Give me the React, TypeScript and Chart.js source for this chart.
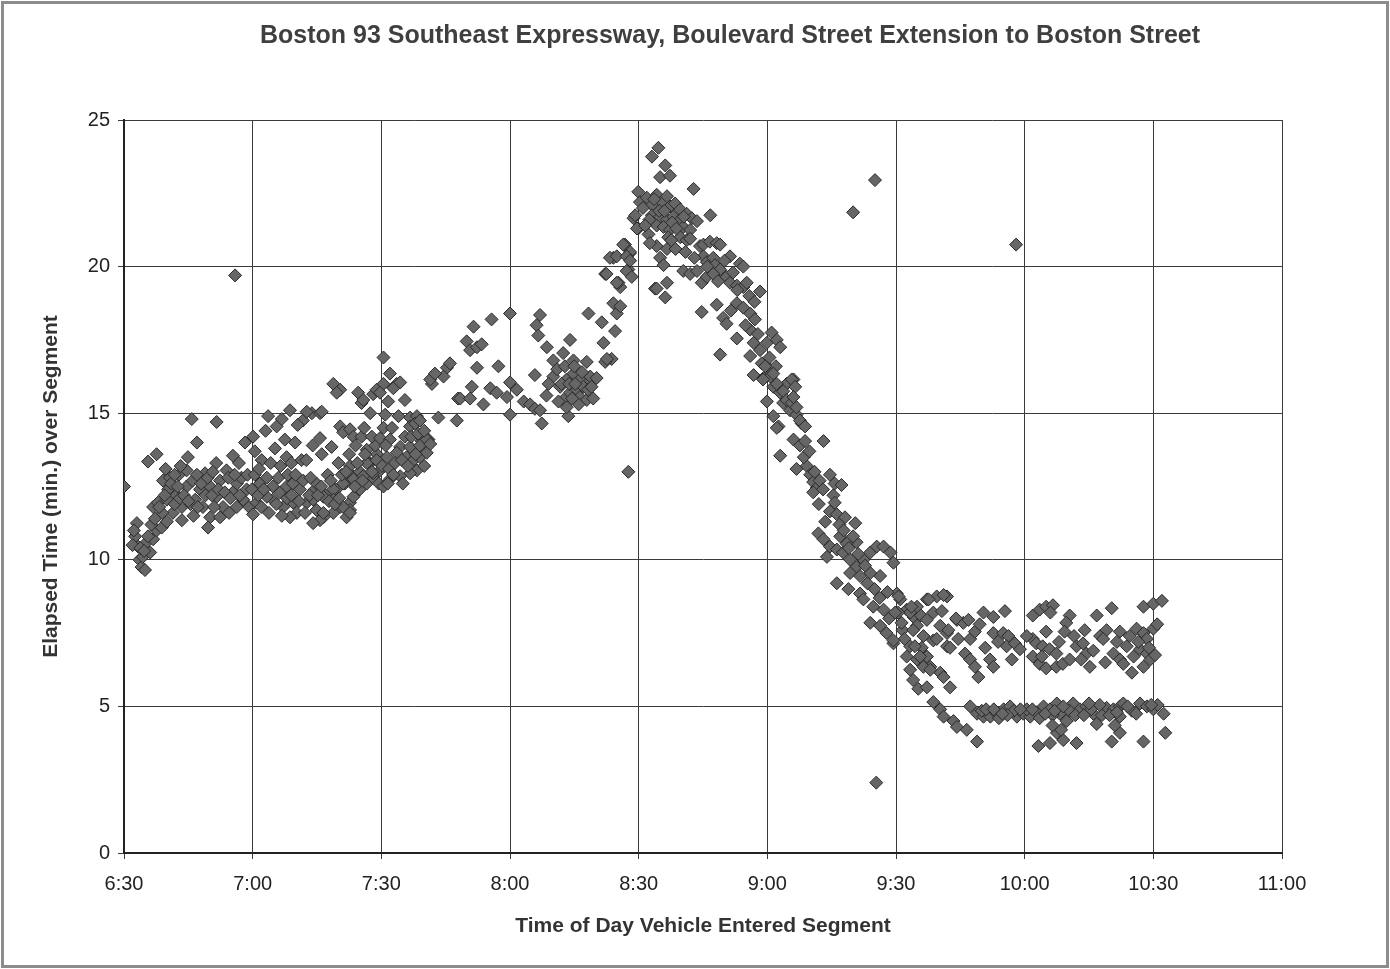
import React, { useEffect, useRef } from "react";
import { Chart, registerables } from "chart.js";

Chart.register(...registerables);

// x values are minutes after 6:30 a.m.; y values are elapsed minutes
const xTickValues = [0, 30, 60, 90, 120, 150, 180, 210, 240, 270];
const xTickLabels = ["6:30", "7:00", "7:30", "8:00", "8:30", "9:00", "9:30", "10:00", "10:30", "11:00"];
const yTickValues = [0, 5, 10, 15, 20, 25];

const titleText = "Boston 93 Southeast Expressway, Boulevard Street Extension to Boston Street";
const xTitle = "Time of Day Vehicle Entered Segment";
const yTitle = "Elapsed Time (min.) over Segment";

const early: [number, number][] = [
  [0, 12.5], [2.6, 10.8], [3.0, 11.25], [3.3, 10.45], [3.6, 10.0], [4.1, 9.75], [4.4, 10.1], [4.9, 9.65],
  [5.3, 10.6], [6.1, 10.25], [6.8, 10.7], [7.6, 11.0], [8.8, 11.1], [6.8, 11.8], [7.9, 11.95], [9.1, 12.7],
  [10.7, 12.8], [10.3, 12.4], [5.6, 13.35], [7.6, 13.6], [10.0, 12.05], [11.4, 11.6], [11.0, 12.6],
  [12.2, 12.2], [12.8, 12.9], [13.5, 11.35], [13.5, 11.8], [14.6, 13.05], [14.9, 13.5], [17.0, 14.0],
  [15.8, 14.8], [21.6, 14.7], [14.6, 12.5], [15.5, 11.9], [16.0, 12.7], [16.6, 12.05], [17.7, 12.4],
  [18.9, 12.95], [19.0, 12.2], [20.1, 12.5], [18.4, 11.8], [20.1, 11.45], [19.6, 11.1], [22.4, 11.45],
  [23.1, 11.8], [21.6, 12.15], [22.4, 12.7], [23.9, 13.05], [25.4, 13.55], [24.3, 12.8], [24.5, 11.6],
  [25.4, 12.3], [26.3, 12.6], [27.4, 12.8], [28.6, 12.4], [27.8, 12.05], [26.3, 11.8], [28.2, 14.0],
  [8.9, 11.6], [26.8, 13.3],
  [2.0, 10.5], [2.3, 11.0], [3.8, 10.4], [4.7, 10.3], [5.6, 10.8], [6.4, 11.2], [7.2, 11.4], [8.2, 11.8],
  [9.5, 12.2], [10.0, 11.3], [11.8, 11.9], [12.5, 12.5], [13.0, 12.1], [14.0, 12.2], [15.0, 12.0],
  [16.2, 11.5], [17.2, 11.8], [18.0, 12.6], [19.5, 12.8], [20.5, 12.2], [21.0, 11.8], [22.0, 12.4],
  [23.5, 12.3], [24.8, 12.1], [25.8, 12.9], [27.0, 12.2], [28.8, 12.9], [29.2, 11.8], [11.8, 12.9],
  [9.7, 13.1], [13.2, 13.2], [21.5, 13.3], [20.7, 13.0], [17.0, 12.9],
];

const morning: [number, number][] = [
  [30.1, 14.2], [30.5, 13.7], [32.1, 13.4], [30.1, 11.55], [30.9, 11.95], [29.8, 12.4], [31.7, 12.6],
  [33.3, 12.8], [33.6, 14.9], [35.6, 14.55], [35.2, 13.8], [37.5, 14.1], [38.7, 15.1], [37.9, 13.5],
  [39.9, 14.0], [41.4, 13.4], [41.7, 14.75], [43.8, 15.0], [34.7, 12.5], [36.4, 12.3], [37.9, 12.5],
  [39.4, 12.6], [41.0, 12.4], [39.4, 11.95], [37.1, 11.8], [34.7, 12.05], [33.3, 12.15], [40.3, 11.6],
  [38.7, 11.45], [42.6, 11.95], [44.5, 12.4], [42.6, 15.05], [45.7, 15.0], [46.1, 15.05], [45.7, 14.15],
  [48.4, 13.85], [46.1, 13.6], [48.8, 16.0], [50.4, 15.8], [49.6, 15.7], [50.4, 14.55], [51.1, 14.35],
  [52.7, 14.45], [53.5, 14.2], [55.4, 14.2], [54.6, 15.7], [55.4, 15.35], [55.8, 15.45], [57.4, 15.0],
  [58.1, 15.65], [58.9, 15.8], [56.6, 13.75], [57.4, 13.3], [44.9, 11.7], [46.5, 11.45], [48.8, 11.6],
  [50.4, 11.8], [52.7, 11.95], [53.5, 12.15], [55.0, 12.4], [56.6, 12.6], [58.1, 12.8], [59.7, 13.05],
  [45.7, 11.35], [52.7, 11.7], [51.9, 11.45], [44.9, 12.6], [47.0, 12.2], [49.5, 12.4], [51.5, 12.6],
  [53.0, 12.9], [55.0, 13.0], [57.0, 13.3], [59.0, 13.6], [47.5, 12.9], [50.0, 13.3], [52.5, 13.6],
  [54.0, 13.9], [52.7, 13.2], [56.6, 13.3], [58.9, 13.4], [53.5, 12.75], [55.8, 12.85], [58.1, 12.95],
  [51.1, 12.6], [48.8, 12.4], [46.5, 12.15], [44.1, 12.05], [48.8, 12.05], [51.1, 11.8], [52.7, 11.6],
  [46.5, 11.6], [44.1, 11.25],
  [30.5, 12.9], [31.3, 12.2], [32.0, 11.8], [32.6, 12.4], [33.8, 11.6], [35.5, 11.9], [36.0, 12.8],
  [36.8, 11.5], [38.0, 12.1], [38.2, 12.9], [39.0, 12.2], [40.0, 12.9], [40.8, 12.0], [41.8, 12.7],
  [42.2, 11.6], [43.2, 12.2], [43.5, 12.8], [45.2, 12.2], [46.0, 12.5], [47.8, 12.0], [48.2, 12.7],
  [49.2, 11.9], [50.2, 12.1], [50.8, 12.9], [51.8, 13.0], [53.8, 12.5], [54.4, 13.3], [55.6, 12.7],
  [56.2, 13.6], [57.8, 13.0], [58.6, 13.9], [59.4, 12.6], [57.8, 14.2], [56.0, 14.5], [31.5, 13.1],
  [34.2, 13.3], [36.5, 13.2], [39.0, 13.3], [42.5, 13.4], [44.0, 13.9], [33.0, 14.4], [36.8, 14.8],
  [40.5, 14.6],
];

const buildUp: [number, number][] = [
  [60.5, 16.9], [62.0, 16.35], [63.6, 16.0], [60.5, 16.0], [59.7, 15.7], [61.6, 15.4], [62.8, 15.85],
  [64.4, 16.05], [65.5, 15.45], [75.3, 16.55], [74.5, 16.25], [71.8, 16.0], [71.4, 16.15], [72.5, 16.35],
  [76.0, 16.7], [60.9, 14.95], [64.0, 14.9], [66.7, 14.85], [68.3, 14.9], [66.7, 14.55], [67.9, 14.65],
  [69.0, 14.75], [73.3, 14.85], [77.6, 14.75], [77.9, 15.5], [60.5, 14.5], [59.7, 14.15], [62.0, 14.1],
  [64.4, 13.85], [66.7, 13.85], [69.4, 14.05], [71.0, 14.1], [61.3, 13.5], [63.6, 13.65], [65.9, 13.5],
  [67.5, 13.4], [69.0, 13.5], [70.6, 13.65], [68.3, 13.05], [66.7, 12.95], [64.4, 12.85], [62.0, 12.75],
  [60.5, 12.5], [69.0, 13.9], [70.6, 14.1], [71.4, 13.95],
  [60.2, 13.2], [61.0, 13.9], [61.8, 13.1], [62.5, 14.5], [63.2, 13.3], [64.8, 13.4], [65.5, 14.2],
  [66.2, 13.2], [67.0, 14.2], [68.0, 13.6], [68.6, 14.3], [70.0, 13.2], [70.0, 14.4], [62.8, 12.9],
  [61.5, 12.6], [65.0, 12.6],
  [79.9, 17.45], [81.5, 17.95], [85.7, 18.2], [90.0, 18.4], [80.7, 17.15], [82.3, 17.25], [83.4, 17.35],
  [82.3, 16.55], [87.3, 16.6], [78.4, 15.5], [80.7, 15.5], [81.1, 15.9], [83.8, 15.3], [85.4, 15.85],
  [86.9, 15.7], [89.3, 15.55], [90.0, 16.05], [91.6, 15.8], [93.2, 15.4], [94.7, 15.3], [95.8, 15.15],
  [97.0, 15.1], [90.0, 14.95], [97.0, 18.35], [96.2, 18.0], [96.6, 17.65], [98.6, 17.25], [95.8, 16.3],
  [97.4, 14.65], [103.6, 14.9], [100.1, 16.8], [102.4, 17.05], [104.8, 16.8], [107.9, 16.75], [104.0, 17.5],
  [100.1, 16.25], [101.7, 15.9], [103.2, 16.15], [104.8, 16.35], [106.3, 16.15], [107.9, 16.0], [104.0, 15.7],
  [105.6, 15.8], [102.4, 15.45], [108.7, 16.25], [110.2, 16.2], [103.2, 15.2], [106.3, 15.55], [107.9, 15.45],
  [109.4, 15.5], [107.1, 15.9],
  [101.0, 16.5], [102.0, 16.0], [102.8, 16.6], [103.8, 16.0], [105.2, 16.0], [105.0, 16.6], [106.8, 16.4],
  [106.0, 15.3], [108.2, 15.8], [109.0, 15.9], [104.5, 15.5], [101.3, 15.4], [99.0, 16.0], [98.5, 15.6],
];

const peak: [number, number][] = [
  [108.3, 18.4], [111.4, 18.1], [114.1, 18.75], [114.9, 18.4], [115.7, 19.3], [114.5, 17.8], [111.8, 17.4],
  [113.7, 16.85], [112.2, 16.75], [117.6, 13.0], [123.8, 19.25], [116.8, 20.75], [114.1, 20.3], [117.9, 20.45],
  [117.6, 19.9], [115.3, 19.45], [112.2, 19.75], [115.7, 18.65], [112.6, 16.85], [116.4, 20.75], [118.0, 20.5],
  [113.3, 20.3], [114.9, 20.35], [117.2, 20.35], [118.0, 20.2], [112.5, 19.75], [114.9, 19.45], [117.2, 19.85],
  [118.4, 19.65], [118.8, 21.65], [119.9, 21.3], [122.3, 21.1],
  [124.6, 24.05], [123.1, 23.75], [126.2, 23.45], [125.0, 23.05], [127.3, 23.1], [132.8, 22.65], [119.9, 22.55],
  [120.3, 22.2], [121.9, 22.35], [123.1, 22.1], [124.2, 22.45], [125.4, 22.2], [126.6, 22.4], [127.3, 22.05],
  [128.5, 22.15], [129.7, 21.95], [123.1, 21.75], [125.0, 21.7], [126.6, 21.6], [128.1, 21.7], [129.7, 21.6],
  [131.2, 21.8], [132.4, 21.65], [133.6, 21.55], [130.4, 21.35], [132.0, 21.25], [129.7, 21.0], [131.2, 20.9],
  [124.2, 21.4], [125.8, 21.35], [127.3, 21.25], [136.7, 21.75], [119.2, 21.75], [119.6, 21.3], [124.2, 20.7],
  [126.6, 20.6], [126.9, 21.0], [125.0, 20.3], [125.8, 20.05], [124.2, 19.25], [126.6, 19.45], [126.2, 18.95],
  [132.0, 20.95], [134.3, 20.7], [135.1, 20.75], [136.6, 20.85], [138.2, 20.8], [139.0, 20.75], [135.1, 20.35],
  [135.9, 20.15], [137.4, 20.3], [137.8, 20.05], [139.0, 19.9], [140.5, 19.65], [141.3, 19.45], [142.9, 19.35],
  [144.4, 19.3], [145.2, 19.45], [141.3, 20.35], [143.6, 20.1], [144.4, 20.0], [130.4, 19.85], [132.0, 19.75],
  [133.6, 19.85], [134.7, 19.45], [135.9, 19.65], [137.4, 19.75], [148.3, 19.15],
  [134.7, 18.45], [138.2, 18.7], [139.7, 18.25], [140.5, 18.05], [142.9, 18.75], [144.4, 18.6], [146.0, 18.4],
  [147.1, 18.2], [142.9, 17.55], [139.0, 17.0], [146.0, 17.85], [146.8, 17.4], [146.0, 16.95], [148.3, 17.15],
  [149.9, 17.4], [151.0, 17.75], [152.2, 17.5], [153.0, 17.25], [148.7, 16.7], [149.9, 16.6], [146.8, 16.3],
  [149.1, 16.2], [150.7, 16.25], [151.4, 15.9], [153.0, 15.7], [154.5, 16.0], [156.1, 16.15], [153.7, 15.35],
  [155.3, 15.1], [156.8, 14.95], [158.0, 14.65], [149.9, 15.4], [151.4, 14.9], [152.6, 14.55],
  [121.0, 22.0], [122.5, 21.6], [123.6, 22.3], [124.8, 21.9], [126.0, 21.9], [127.8, 21.5], [128.8, 21.3],
  [130.5, 21.7], [121.5, 21.4], [122.6, 20.8], [127.6, 20.9], [128.6, 20.6], [130.9, 20.5], [133.0, 20.3],
  [136.0, 20.0], [138.5, 19.5], [140.0, 20.2], [142.0, 19.8], [143.0, 19.2], [145.8, 19.0], [147.0, 18.8],
  [141.5, 18.5], [144.9, 18.0], [147.8, 17.7], [150.5, 16.9], [152.0, 16.6],
];

const decline: [number, number][] = [
  [149.5, 16.6], [151.4, 16.35], [149.0, 16.15], [152.2, 16.0], [155.7, 16.15], [156.5, 15.9], [153.7, 15.75],
  [154.5, 15.45], [155.7, 15.35], [156.1, 15.55], [152.2, 14.5], [153.0, 13.55], [156.8, 15.2], [157.6, 14.75],
  [158.8, 14.55], [156.1, 14.1], [157.6, 13.9], [158.8, 14.05], [163.1, 14.05],
  [156.8, 13.1], [159.2, 13.2], [160.0, 12.9], [160.7, 12.65], [161.5, 12.45], [160.7, 12.3], [164.6, 12.9],
  [165.7, 12.6], [167.3, 12.55], [165.4, 12.2], [165.7, 11.95], [164.6, 11.65], [166.2, 11.55], [168.1, 11.45],
  [170.5, 11.25], [170.8, 10.6],
  [161.9, 10.9], [163.1, 10.7], [164.6, 10.45], [166.2, 10.35], [163.9, 10.1], [167.0, 10.8], [168.5, 10.55],
  [167.7, 10.25], [169.3, 10.0], [170.8, 9.75], [169.3, 9.55], [171.6, 9.45], [172.4, 10.0], [174.0, 10.25],
  [175.5, 10.45], [177.1, 10.45], [178.7, 10.25], [179.4, 9.9], [176.3, 9.45], [174.0, 9.55], [166.2, 9.2],
  [168.9, 9.0], [171.6, 8.85], [172.4, 8.65], [174.7, 8.4], [177.1, 8.3], [174.0, 7.85], [176.3, 7.75],
  [177.8, 7.5], [179.4, 7.15], [180.2, 8.85], [181.0, 8.65], [182.5, 8.3], [184.1, 8.05], [184.9, 7.75],
  [186.4, 7.4], [183.3, 7.05], [184.9, 6.6], [188.0, 6.35], [187.2, 8.65], [189.5, 8.75], [191.9, 8.75],
  [184.9, 8.4], [183.3, 8.2], [188.7, 8.2], [190.3, 7.75], [191.9, 7.5], [188.7, 7.25], [191.9, 7.05],
  [190.3, 6.15], [187.2, 6.7], [194.2, 7.95],
  [158.5, 13.5], [159.8, 13.7], [161.0, 13.0], [162.2, 12.7], [163.0, 12.4], [162.0, 11.9], [163.5, 11.3],
  [166.8, 11.2], [167.8, 11.0], [169.0, 10.4], [170.0, 10.8], [171.2, 10.2], [172.8, 9.8], [173.3, 9.2],
  [175.0, 9.0], [176.2, 8.7], [178.0, 8.9], [178.4, 8.0], [180.5, 8.2], [181.5, 7.6], [182.0, 7.3],
  [185.8, 8.1], [186.0, 7.0],
];

const tailUpper: [number, number][] = [
  [180.6, 8.75], [179.8, 8.2], [179.4, 7.25], [181.3, 7.85], [183.6, 8.4], [184.0, 7.6], [182.5, 6.7],
  [184.4, 7.05], [185.6, 6.7], [186.4, 6.35], [183.3, 6.25], [184.0, 5.9], [185.2, 5.6], [187.2, 5.65],
  [188.0, 6.25], [191.1, 6.0], [192.6, 5.65], [187.6, 8.65], [191.1, 8.8], [187.2, 7.95], [190.7, 8.25],
  [189.5, 7.3], [192.2, 7.6], [192.6, 7.0], [194.5, 7.3], [195.7, 7.85], [196.9, 7.95], [197.3, 7.3],
  [198.4, 7.55], [196.1, 6.8], [197.3, 6.6], [198.4, 6.35], [199.2, 6.0], [200.4, 8.2], [202.7, 8.05],
  [202.7, 7.5], [201.9, 6.6], [202.7, 6.35], [205.4, 8.25], [205.0, 7.5], [206.2, 7.4], [205.8, 7.05],
  [207.7, 7.15], [208.9, 6.95],
  [211.9, 8.1], [213.5, 8.3], [215.0, 8.4], [216.6, 8.45], [220.5, 8.1], [219.7, 7.85], [219.3, 7.55],
  [215.0, 7.55], [211.9, 7.3], [212.7, 7.15], [214.2, 7.05], [215.8, 6.95], [217.4, 6.8], [211.9, 6.7],
  [213.5, 6.45], [215.0, 6.3], [217.4, 6.35], [218.9, 6.45], [220.5, 6.6], [222.1, 7.05], [223.6, 7.15],
  [224.4, 6.8], [223.2, 6.6], [225.2, 6.35], [226.8, 8.1], [230.3, 8.35], [227.6, 7.4], [229.1, 7.6],
  [232.2, 7.55], [228.3, 7.3], [233.8, 7.05], [230.7, 6.8], [232.2, 6.6], [233.0, 6.45], [235.0, 6.15],
  [236.1, 7.65], [237.7, 7.5], [238.5, 7.3], [236.9, 6.95], [238.5, 6.8], [239.3, 6.6], [237.7, 6.35],
  [237.7, 8.4], [240.0, 8.5], [240.0, 7.65], [235.4, 6.7], [242.0, 8.6], [240.9, 7.8], [240.4, 6.75],
  [194.0, 8.0], [199.5, 7.8], [200.8, 7.0], [203.8, 7.2], [207.0, 6.6], [210.5, 7.4], [214.0, 6.7],
  [218.0, 7.2], [221.5, 7.4], [226.0, 6.9], [228.8, 6.5], [231.5, 7.2], [234.5, 7.4], [236.5, 7.2],
  [239.0, 7.0], [216.0, 8.2], [224.0, 7.6],
];

const tailLower: [number, number][] = [
  [188.7, 5.15], [190.3, 4.9], [191.1, 4.65], [193.4, 4.5], [194.2, 4.3], [196.5, 4.2], [198.9, 3.8],
  [197.3, 5.0], [198.9, 4.75], [200.4, 4.65], [202.0, 4.65], [203.5, 4.75], [205.1, 4.9], [206.6, 5.0],
  [208.2, 4.65], [209.7, 4.75], [211.3, 4.65], [212.8, 4.8], [214.4, 5.0], [215.9, 4.9], [217.5, 5.1],
  [218.2, 4.75], [219.8, 4.5], [221.3, 5.1], [222.9, 4.9], [224.4, 5.0], [226.0, 4.75], [226.8, 4.4],
  [229.1, 4.95], [230.7, 4.9], [232.2, 5.0], [233.0, 5.1], [232.2, 4.65], [236.9, 5.1], [238.5, 5.0],
  [240.0, 4.9], [242.4, 4.75], [242.8, 4.1], [213.2, 3.65], [215.9, 3.75], [217.5, 4.1], [219.0, 3.85],
  [222.1, 3.75], [230.3, 3.8], [232.2, 4.1], [237.7, 3.8], [200.0, 4.85], [204.0, 4.6], [207.5, 4.85],
  [210.5, 4.9], [213.5, 4.6], [216.5, 4.7], [220.5, 4.85], [225.5, 4.9], [228.0, 4.7], [235.0, 4.85],
  [241.0, 5.05], [227.5, 5.05],
  [201.0, 4.9], [202.8, 4.9], [206.0, 4.7], [209.0, 4.9], [211.8, 4.9], [214.8, 4.75], [217.0, 4.85],
  [219.0, 5.0], [221.8, 4.7], [223.8, 4.7], [225.0, 5.1], [229.8, 4.7], [231.5, 4.8], [234.0, 5.0],
  [236.0, 4.75], [239.5, 5.05], [204.8, 4.75], [218.5, 4.2], [216.5, 4.35], [231.0, 4.35],
];

const outliers: [number, number][] = [
  [25.9, 19.7], [170.0, 21.85], [175.1, 22.95], [175.4, 2.4], [208.0, 20.75],
];

const FONT = '"Liberation Sans", Arial, Helvetica, sans-serif';

const framePlugin = {
  id: "frameAndTitle",
  beforeDraw(chart: any) {
    const { ctx, width, height } = chart;
    ctx.save();
    ctx.fillStyle = "#ffffff";
    ctx.fillRect(0, 0, width, height);
    ctx.restore();
  },
  afterDraw(chart: any) {
    const { ctx, width, height } = chart;
    ctx.save();
    ctx.strokeStyle = "#8c8c8c";
    ctx.lineWidth = 3;
    ctx.strokeRect(2.5, 2.5, width - 5, height - 5);
    ctx.fillStyle = "#3f3f3f";
    ctx.font = `bold 25px ${FONT}`;
    ctx.textAlign = "center";
    ctx.textBaseline = "alphabetic";
    ctx.fillText(titleText, 730, 43);
    ctx.restore();
  },
};

export default function App() {
  const canvasRef = useRef<HTMLCanvasElement | null>(null);

  useEffect(() => {
    if (!canvasRef.current) return;
    const all = [...early, ...morning, ...buildUp, ...peak, ...decline, ...tailUpper, ...tailLower, ...outliers];
    const chart = new Chart(canvasRef.current, {
      type: "scatter",
      data: {
        datasets: [
          {
            label: "Elapsed time",
            data: all.map(([x, y]) => ({ x, y })),
            pointStyle: "rectRot",
            pointRadius: 6.5,
            pointBackgroundColor: "#666666",
            pointBorderColor: "#2a2a2a",
            pointBorderWidth: 1,
            showLine: false,
          },
        ],
      },
      options: {
        responsive: false,
        animation: false,
        devicePixelRatio: 1,
        events: [],
        layout: { padding: { left: 0, right: 108, top: 120, bottom: 0 } },
        plugins: {
          legend: { display: false },
          tooltip: { enabled: false },
          title: { display: false },
        },
        scales: {
          x: {
            type: "linear",
            min: 0,
            max: 270,
            afterFit: (scale: any) => {
              scale.height = 116;
            },
            afterBuildTicks: (scale: any) => {
              scale.ticks = xTickValues.map((v) => ({ value: v }));
            },
            ticks: {
              callback: (v: any) => {
                const i = xTickValues.indexOf(Number(v));
                return i >= 0 ? xTickLabels[i] : "";
              },
              font: { family: FONT, size: 20 },
              color: "#222",
              padding: 13,
              maxRotation: 0,
            },
            grid: { color: "#3a3a3a", lineWidth: 1, tickLength: 6, tickColor: "#3a3a3a" },
            border: { display: true, color: "#222", width: 2 },
            title: {
              display: true,
              text: xTitle,
              font: { family: FONT, size: 21, weight: "bold" },
              color: "#333",
              padding: { top: 0, bottom: 30 },
            },
          },
          y: {
            type: "linear",
            min: 0,
            max: 25,
            afterFit: (scale: any) => {
              scale.width = 124;
            },
            afterBuildTicks: (scale: any) => {
              scale.ticks = yTickValues.map((v) => ({ value: v }));
            },
            ticks: {
              font: { family: FONT, size: 20 },
              color: "#222",
              padding: 8,
            },
            grid: { color: "#3a3a3a", lineWidth: 1, tickLength: 6, tickColor: "#3a3a3a" },
            border: { display: true, color: "#222", width: 2 },
            title: {
              display: true,
              text: yTitle,
              font: { family: FONT, size: 21, weight: "bold" },
              color: "#333",
              padding: { top: 39, bottom: 0 },
            },
          },
        },
      },
      plugins: [framePlugin],
    });
    return () => chart.destroy();
  }, []);

  return (
    <div style={{ position: "absolute", left: 0, top: 0, width: 1390, height: 969 }}>
      <canvas ref={canvasRef} width={1390} height={969} style={{ display: "block" }} />
    </div>
  );
}
